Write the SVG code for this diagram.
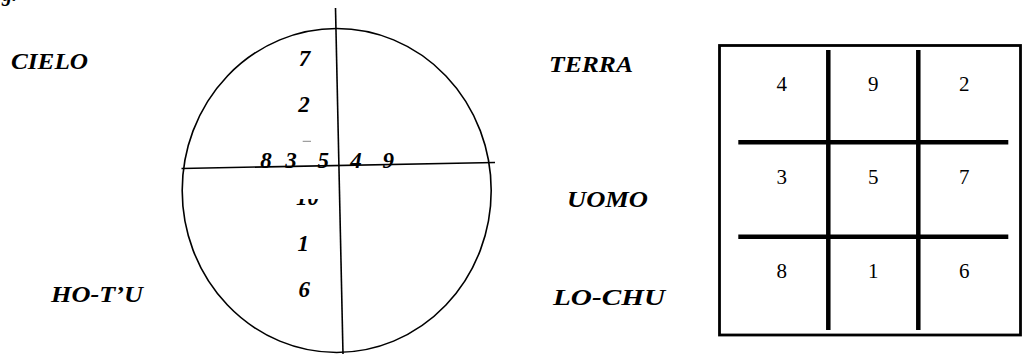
<svg xmlns="http://www.w3.org/2000/svg" width="1023" height="354" viewBox="0 0 1023 354">
<style>
.lbl{font-family:"Liberation Serif","Times New Roman",serif;font-weight:bold;font-style:italic;font-size:24px;fill:#000}
.dig{font-family:"Liberation Serif","Times New Roman",serif;font-weight:bold;font-style:italic;font-size:23px;fill:#000;text-anchor:middle}
.sq{font-family:"Liberation Serif","Times New Roman",serif;font-size:21px;fill:#000;text-anchor:middle}
.thin{stroke:#000;stroke-width:1.6;fill:none}
.grid{stroke:#000;stroke-width:4.5;fill:none}
</style>
<defs>
<clipPath id="clipTen"><rect x="280" y="199" width="60" height="10"/></clipPath>
<clipPath id="clipFig"><rect x="0" y="0" width="40" height="6"/></clipPath>
</defs>
<rect width="1023" height="354" fill="#fff"/>
<g id="fig-fragment" clip-path="url(#clipFig)">
<text x="2" y="1" class="lbl" style="font-size:20px">g.</text>
</g>
<g id="labels">
<text x="11" y="69" class="lbl" textLength="77" lengthAdjust="spacingAndGlyphs">CIELO</text>
<text x="549" y="72" class="lbl" textLength="84" lengthAdjust="spacingAndGlyphs">TERRA</text>
<text x="567" y="206.5" class="lbl" textLength="81" lengthAdjust="spacingAndGlyphs">UOMO</text>
<text x="51" y="301.5" class="lbl" textLength="92" lengthAdjust="spacingAndGlyphs">HO-T’U</text>
<text x="553" y="305" class="lbl" textLength="112" lengthAdjust="spacingAndGlyphs">LO-CHU</text>
</g>
<g id="circle-diagram">
<ellipse cx="336.7" cy="190.5" rx="154.5" ry="162" class="thin"/>
<g id="connectors">
<line x1="335.5" y1="8" x2="343" y2="354" class="thin"/>
<line x1="181.5" y1="168.5" x2="495" y2="162.5" class="thin"/>
</g>
<g id="circle-numbers">
<text x="304.5" y="65.7" class="dig">7</text>
<text x="304" y="112.3" class="dig">2</text>
<line x1="302.7" y1="141.3" x2="311" y2="141.3" stroke="#888" stroke-width="1"/>
<text x="266" y="168.3" class="dig">8</text>
<text x="291" y="168.3" class="dig">3</text>
<text x="323.3" y="168.3" class="dig">5</text>
<text x="356" y="168.3" class="dig">4</text>
<text x="388.3" y="168.3" class="dig">9</text>
<g clip-path="url(#clipTen)"><text x="307.5" y="205" class="dig">10</text></g>
<text x="303.3" y="250.7" class="dig">1</text>
<text x="304.3" y="296.7" class="dig">6</text>
</g>
</g>
<g id="lo-shu-square">
<rect x="719.5" y="45.5" width="301" height="289.5" fill="none" stroke="#000" stroke-width="2.8"/>
<line x1="828.3" y1="50" x2="828.3" y2="330" class="grid"/>
<line x1="918.3" y1="50" x2="918.3" y2="330" class="grid"/>
<line x1="738.3" y1="142.3" x2="1008.3" y2="142.3" class="grid"/>
<line x1="738.3" y1="236.7" x2="1008.3" y2="236.7" class="grid"/>
<text x="781.7" y="90.7" class="sq">4</text>
<text x="873.3" y="90.7" class="sq">9</text>
<text x="964.3" y="90.7" class="sq">2</text>
<text x="781.7" y="184.3" class="sq">3</text>
<text x="873.3" y="184.3" class="sq">5</text>
<text x="964.3" y="184.3" class="sq">7</text>
<text x="781.7" y="278.3" class="sq">8</text>
<text x="873.3" y="278.3" class="sq">1</text>
<text x="964.3" y="278.3" class="sq">6</text>
</g>
</svg>
